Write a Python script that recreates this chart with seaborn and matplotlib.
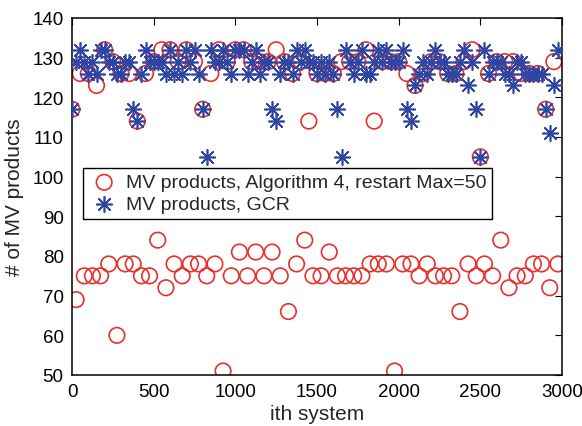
import numpy as np
import pandas as pd
import matplotlib
matplotlib.use("Agg")
import matplotlib.pyplot as plt
import seaborn as sns

# ---- data ----
# Algorithm 4: systems at 0,50,...,2950 (upper band) and 25,75,...,2975 (lower band)
alg4_upper_x = list(range(0, 3000, 50))
alg4_upper_y = [117, 126, 126, 123, 132, 129, 126, 126, 114, 126,
                129, 132, 132, 129, 132, 129, 117, 126, 132, 129,
                132, 132, 129, 129, 129, 132, 129, 126, 129, 114,
                126, 126, 126, 129, 129, 129, 132, 114, 129, 129,
                129, 126, 123, 126, 129, 129, 126, 126, 129, 132,
                105, 126, 129, 129, 129, 126, 126, 126, 117, 129]
alg4_lower_x = list(range(25, 3000, 50))
alg4_lower_y = [69, 75, 75, 75, 78, 60, 78, 78, 75, 75,
                84, 72, 78, 75, 78, 78, 75, 78, 51, 75,
                81, 75, 81, 75, 81, 75, 66, 78, 84, 75,
                75, 81, 75, 75, 75, 75, 78, 78, 78, 51,
                78, 78, 75, 78, 75, 75, 75, 66, 78, 75,
                78, 75, 84, 72, 75, 75, 78, 78, 72, 78]

# GCR: systems at 0,25,...,2975
gcr_x = list(range(0, 3000, 25))
gcr_y = [117, 129, 132, 129, 126, 129, 126, 132, 132, 129,
         129, 126, 126, 129, 129, 117, 114, 126, 132, 129,
         129, 129, 129, 126, 132, 126, 129, 126, 132, 129,
         132, 126, 117, 105, 132, 129, 129, 132, 129, 126,
         132, 132, 132, 126, 129, 132, 126, 129, 129, 117,
         114, 126, 129, 129, 126, 132, 129, 132, 129, 129,
         126, 129, 126, 129, 126, 117, 105, 132, 129, 126,
         129, 132, 126, 126, 129, 132, 129, 132, 129, 129,
         129, 132, 117, 114, 123, 126, 129, 126, 129, 132,
         129, 129, 126, 126, 126, 129, 132, 123, 129, 117,
         105, 132, 126, 129, 129, 129, 126, 126, 123, 129,
         129, 126, 126, 126, 126, 126, 117, 111, 123, 132]

label_alg4 = "MV products, Algorithm 4, restart Max=50"
label_gcr = "MV products, GCR"

alg4 = pd.DataFrame({"x": alg4_upper_x + alg4_lower_x,
                     "y": alg4_upper_y + alg4_lower_y}).sort_values("x")
gcr = pd.DataFrame({"x": gcr_x, "y": gcr_y})

# ---- style ----
sns.set_theme(style="white")
plt.rcParams["font.family"] = ["Liberation Sans", "DejaVu Sans"]
plt.rcParams["font.size"] = 13

RED = "#e8302a"
BLUE = "#2f45a3"

fig = plt.figure(figsize=(5.82, 4.27), dpi=100)
ax = fig.add_axes([72 / 582, 1 - 376 / 427, 490 / 582, 357 / 427])

sns.scatterplot(data=alg4, x="x", y="y", ax=ax, marker="o", s=125,
                facecolor="none", edgecolor=RED, linewidth=1.2,
                label=label_alg4, zorder=2)
sns.scatterplot(data=gcr, x="x", y="y", ax=ax, marker=(8, 2, 0), s=125,
                color=BLUE, edgecolor=BLUE, linewidth=1.2,
                label=label_gcr, zorder=3)

ax.set_xlim(0, 3000)
ax.set_ylim(50, 140)
ax.set_xticks(np.arange(0, 3001, 500))
ax.set_yticks(np.arange(50, 141, 10))
ax.set_xlabel("ith system", fontsize=15, labelpad=3)
ax.set_ylabel("# of MV products", fontsize=15, labelpad=6)

ax.tick_params(direction="in", length=5, width=0.8, top=True, right=True,
               labelsize=13.5, colors="black", pad=6)
for sp in ax.spines.values():
    sp.set_visible(True)
    sp.set_color("black")
    sp.set_linewidth(1.1)

leg = ax.legend(loc="upper left", bbox_to_anchor=(0.022, 0.580),
                borderaxespad=0, frameon=True, fancybox=False,
                fontsize=14, handletextpad=0.3, borderpad=0.3,
                labelspacing=0.2, handlelength=1.6)
leg.get_frame().set_edgecolor("black")
leg.get_frame().set_linewidth(1.0)
leg.get_frame().set_alpha(1)

fig.savefig("out.png", dpi=100)
